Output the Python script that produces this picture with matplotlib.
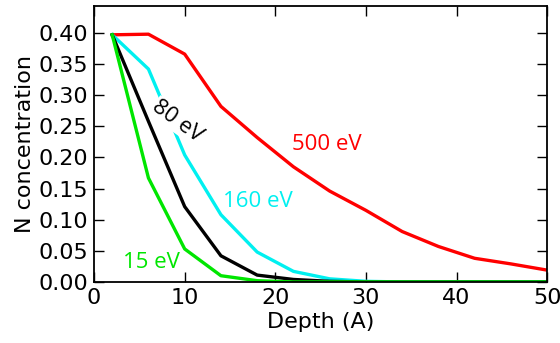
import matplotlib
matplotlib.use("Agg")
import matplotlib.pyplot as plt

# depth points (Angstrom)
depth = [2, 6, 10, 14, 18, 22, 26, 30, 34, 38, 42, 46, 50]

# N concentration for each ion energy
n_15ev = [0.397, 0.167, 0.053, 0.010, 0.002, 0.0, 0.0, 0.0, 0.0, 0.0, 0.0, 0.0, 0.0]
n_80ev = [0.397, 0.258, 0.121, 0.042, 0.011, 0.004, 0.001, 0.0, 0.0, 0.0, 0.0, 0.0, 0.0]
n_160ev = [0.397, 0.342, 0.204, 0.108, 0.048, 0.017, 0.005, 0.001, 0.0, 0.0, 0.0, 0.0, 0.0]
n_500ev = [0.397, 0.398, 0.366, 0.282, 0.232, 0.185, 0.146, 0.115, 0.081, 0.057, 0.038, 0.029, 0.019]

fig = plt.figure(figsize=(5.6, 3.43), dpi=100)
ax = fig.add_axes([0.168, 0.178, 0.809, 0.804])

lw = 2.4
ax.plot(depth, n_500ev, color='#ff0000', lw=lw)
ax.plot(depth, n_160ev, color='#00f0f0', lw=lw)
ax.plot(depth, n_80ev, color='black', lw=lw)
ax.plot(depth, n_15ev, color='#00e600', lw=lw)

# labels on the curves
lab_font = ['Open Sans', 'DejaVu Sans']
ax.text(9.2, 0.258, '80 eV', color='black', fontsize=16, family=lab_font,
        rotation=-36, ha='center', va='center',
        bbox=dict(facecolor='white', edgecolor='none', pad=0.5))
ax.text(18.1, 0.129, '160 eV', color='#00f0f0', fontsize=16, family=lab_font,
        ha='center', va='center')
ax.text(25.7, 0.221, '500 eV', color='#ff0000', fontsize=16, family=lab_font,
        ha='center', va='center')
ax.text(6.3, 0.031, '15 eV', color='#00e600', fontsize=16, family=lab_font,
        ha='center', va='center')

ax.set_xlim(0, 50)
ax.set_ylim(0, 0.443)
ax.set_xticks([0, 10, 20, 30, 40, 50])
ax.set_yticks([0.0, 0.05, 0.10, 0.15, 0.20, 0.25, 0.30, 0.35, 0.40])
ax.set_yticklabels(['%.2f' % v for v in ax.get_yticks()])
ax.tick_params(direction='in', top=True, right=True, length=7, width=1,
               labelsize=16, pad=4)
for s in ax.spines.values():
    s.set_linewidth(1.3)

ax.set_xlabel('Depth (A)', fontsize=16, labelpad=3)
ax.set_ylabel('N concentration', fontsize=16, labelpad=3)

fig.savefig('out.png', dpi=100)
